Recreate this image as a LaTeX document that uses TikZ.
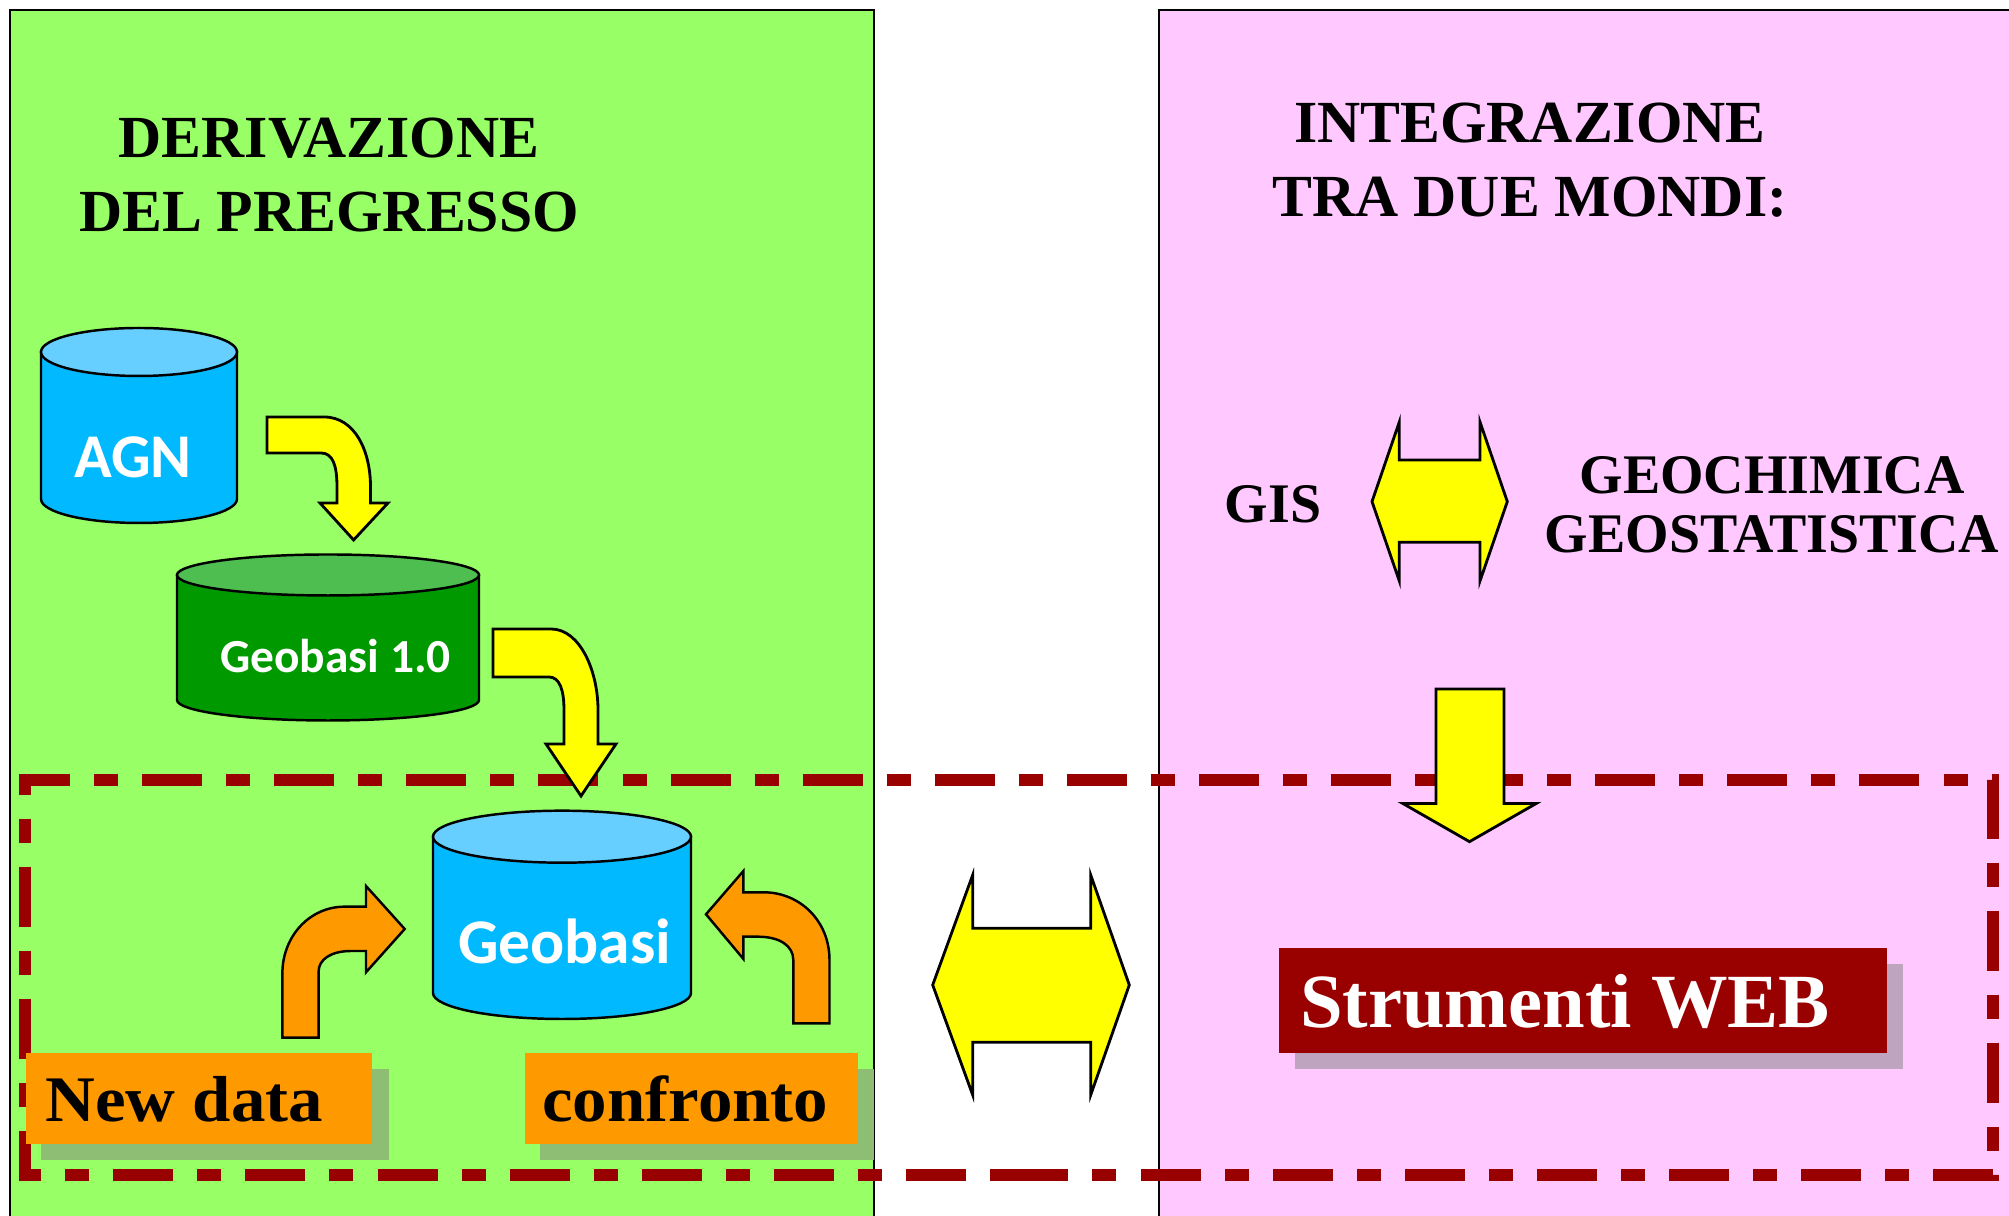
\documentclass[tikz,border=0pt]{standalone}
\usepackage{fontspec}
\setmainfont{Liberation Serif}
\newfontfamily\widefont[FakeStretch=1.06]{Liberation Serif}
\setsansfont{Carlito}
\definecolor{panelgreen}{HTML}{99FF66}
\definecolor{panelpink}{HTML}{FFC9FF}
\definecolor{dashred}{HTML}{990000}
\definecolor{dbblue}{HTML}{00B9FF}
\definecolor{dbbluetop}{HTML}{66CFFF}
\definecolor{dbgreen}{HTML}{009900}
\definecolor{dbgreentop}{HTML}{4DBE4F}
\definecolor{blockyellow}{HTML}{FFFF00}
\definecolor{boxorange}{HTML}{FF9900}
\definecolor{shadowgreen}{HTML}{8EBE73}
\definecolor{shadowpink}{HTML}{BFA4BF}
\newcommand{\dbdrum}[7]{
    \draw[fill=#6, line width=0.7pt] (#1-#4, #2) -- (#1-#4, #3) arc (180:360:#4 and #5) -- (#1+#4, #2) -- cycle;
    \draw[fill=#7, line width=0.7pt] (#1, #2) ellipse (#4 and #5);
}
\tikzset{
    panel/.style={draw=black, line width=0.6pt},
    block/.style={draw=black, line width=0.8pt, fill=blockyellow},
    turn/.style={draw=black, line width=0.7pt, fill=boxorange},
    serifbig/.style={inner sep=0pt, anchor=base, align=center, font=\fontsize{17}{21.3}\selectfont\bfseries},
    sansbig/.style={inner sep=0pt, anchor=base, text=white, font=\sffamily\bfseries},
}

\begin{document}
\begin{tikzpicture}
    \useasboundingbox (0, 0) rectangle (20.09, 12.16);
    \clip (0, 0) rectangle (20.09, 12.16);
    % the two panels run off the page
    \draw[panel, fill=panelgreen] (0.10, -1) rectangle (8.74, 12.06);
    \draw[panel, fill=panelpink] (11.59, -1) rectangle (21, 12.06);
    \draw[dashred, line width=3.4pt, dash pattern=on 0.24cm off 0.24cm on 0.60cm off 0.241cm]
        (10.14, 0.41) -- (0.25, 0.41) -- (0.25, 4.36) -- (19.93, 4.36) -- (19.93, 0.41) -- (10.07, 0.41);
    \node[serifbig] (derivazione) at (3.29, 9.84) {DERIVAZIONE\\DEL PREGRESSO};
    \node[serifbig] (integrazione) at (15.30, 9.99) {INTEGRAZIONE\\TRA DUE MONDI:};
    \node[serifbig, font=\fontsize{15.9}{16.8}\selectfont\bfseries] (gis) at (12.73, 6.93) {GIS};
    \node[serifbig, font=\fontsize{15.9}{16.8}\selectfont\bfseries] (geochimica) at (17.72, 6.63) {GEOCHIMICA\\GEOSTATISTICA};
    \dbdrum{1.39}{8.64}{7.17}{0.98}{0.24}{dbblue}{dbbluetop}
    \dbdrum{3.28}{6.41}{5.16}{1.51}{0.205}{dbgreen}{dbgreentop}
    \dbdrum{5.62}{3.793}{2.23}{1.29}{0.26}{dbblue}{dbbluetop}
    \node[sansbig, font=\fontsize{17.7}{20}\selectfont\sffamily\bfseries] (agn) at (1.33, 7.38) {AGN};
    \node[sansbig, font=\fontsize{13.5}{15}\selectfont\sffamily\bfseries] (geobasiold) at (3.355, 5.43) {Geobasi 1.0};
    \node[sansbig, font=\fontsize{18.1}{20}\selectfont\sffamily\bfseries] (geobasi) at (5.647, 2.52) {Geobasi};
    % yellow block arrows
    \draw[block] (2.67, 7.99) -- (3.24, 7.99) .. controls (3.55, 7.99) and (3.705, 7.65) .. (3.705, 7.29) -- (3.705, 7.13) -- (3.88, 7.13) -- (3.536, 6.76) -- (3.20, 7.13) -- (3.37, 7.13) -- (3.37, 7.29) .. controls (3.37, 7.50) and (3.33, 7.63) .. (3.21, 7.63) -- (2.67, 7.63) -- cycle;
    \draw[block] (4.93, 5.87) -- (5.51, 5.87) .. controls (5.80, 5.87) and (5.98, 5.45) .. (5.98, 5.06) -- (5.98, 4.72) -- (6.16, 4.72) -- (5.81, 4.20) -- (5.46, 4.72) -- (5.64, 4.72) -- (5.64, 5.06) .. controls (5.64, 5.25) and (5.60, 5.39) .. (5.49, 5.39) -- (4.93, 5.39) -- cycle;
    \draw[block] (9.327, 2.31) -- (9.727, 3.41) -- (9.727, 2.877) -- (10.907, 2.877) -- (10.907, 3.41) -- (11.293, 2.31) -- (10.907, 1.21) -- (10.907, 1.737) -- (9.727, 1.737) -- (9.727, 1.21) -- cycle;
    \draw[block] (13.72, 7.144) -- (13.993, 7.94) -- (13.993, 7.56) -- (14.80, 7.56) -- (14.80, 7.94) -- (15.073, 7.144) -- (14.80, 6.35) -- (14.80, 6.738) -- (13.993, 6.738) -- (13.993, 6.35) -- cycle;
    \draw[block] (14.36, 5.27) -- (15.04, 5.27) -- (15.04, 4.124) -- (15.36, 4.124) -- (14.695, 3.743) -- (14.03, 4.124) -- (14.36, 4.124) -- cycle;
    % orange turning arrows
    \draw[turn] (2.824, 1.783) -- (3.186, 1.783) -- (3.186, 2.443) .. controls (3.186, 2.56) and (3.30, 2.65) .. (3.513, 2.65) -- (3.66, 2.65) -- (3.66, 2.437) -- (4.047, 2.87) -- (3.66, 3.30) -- (3.66, 3.093) -- (3.444, 3.093) .. controls (3.10, 3.093) and (2.824, 2.80) .. (2.824, 2.427) -- cycle;
    \draw[turn] (8.295, 1.927) -- (7.933, 1.927) -- (7.933, 2.56) .. controls (7.933, 2.70) and (7.80, 2.793) .. (7.578, 2.793) -- (7.434, 2.793) -- (7.434, 2.57) -- (7.06, 3.017) -- (7.434, 3.45) -- (7.434, 3.237) -- (7.635, 3.237) .. controls (8.00, 3.237) and (8.295, 2.95) .. (8.295, 2.56) -- cycle;
    % boxes with their shadows
    \fill[shadowgreen] (0.41, 0.56) rectangle (3.89, 1.47);
    \fill[boxorange] (0.26, 0.72) rectangle (3.72, 1.63);
    \fill[shadowgreen] (5.40, 0.56) rectangle (8.74, 1.47);
    \fill[boxorange] (5.25, 0.72) rectangle (8.58, 1.63);
    \fill[shadowpink] (12.95, 1.47) rectangle (19.03, 2.52);
    \fill[dashred] (12.79, 1.63) rectangle (18.87, 2.68);
    \node[serifbig, font=\fontsize{18.5}{22}\selectfont\widefont\bfseries] (newdata) at (1.843, 0.94) {New data};
    \node[serifbig, font=\fontsize{18.5}{22}\selectfont\widefont\bfseries] (confronto) at (6.853, 0.94) {confronto};
    \node[serifbig, text=white, font=\fontsize{21.8}{25}\selectfont\bfseries] (strumenti) at (15.65, 1.885) {Strumenti WEB};
\end{tikzpicture}
\end{document}
